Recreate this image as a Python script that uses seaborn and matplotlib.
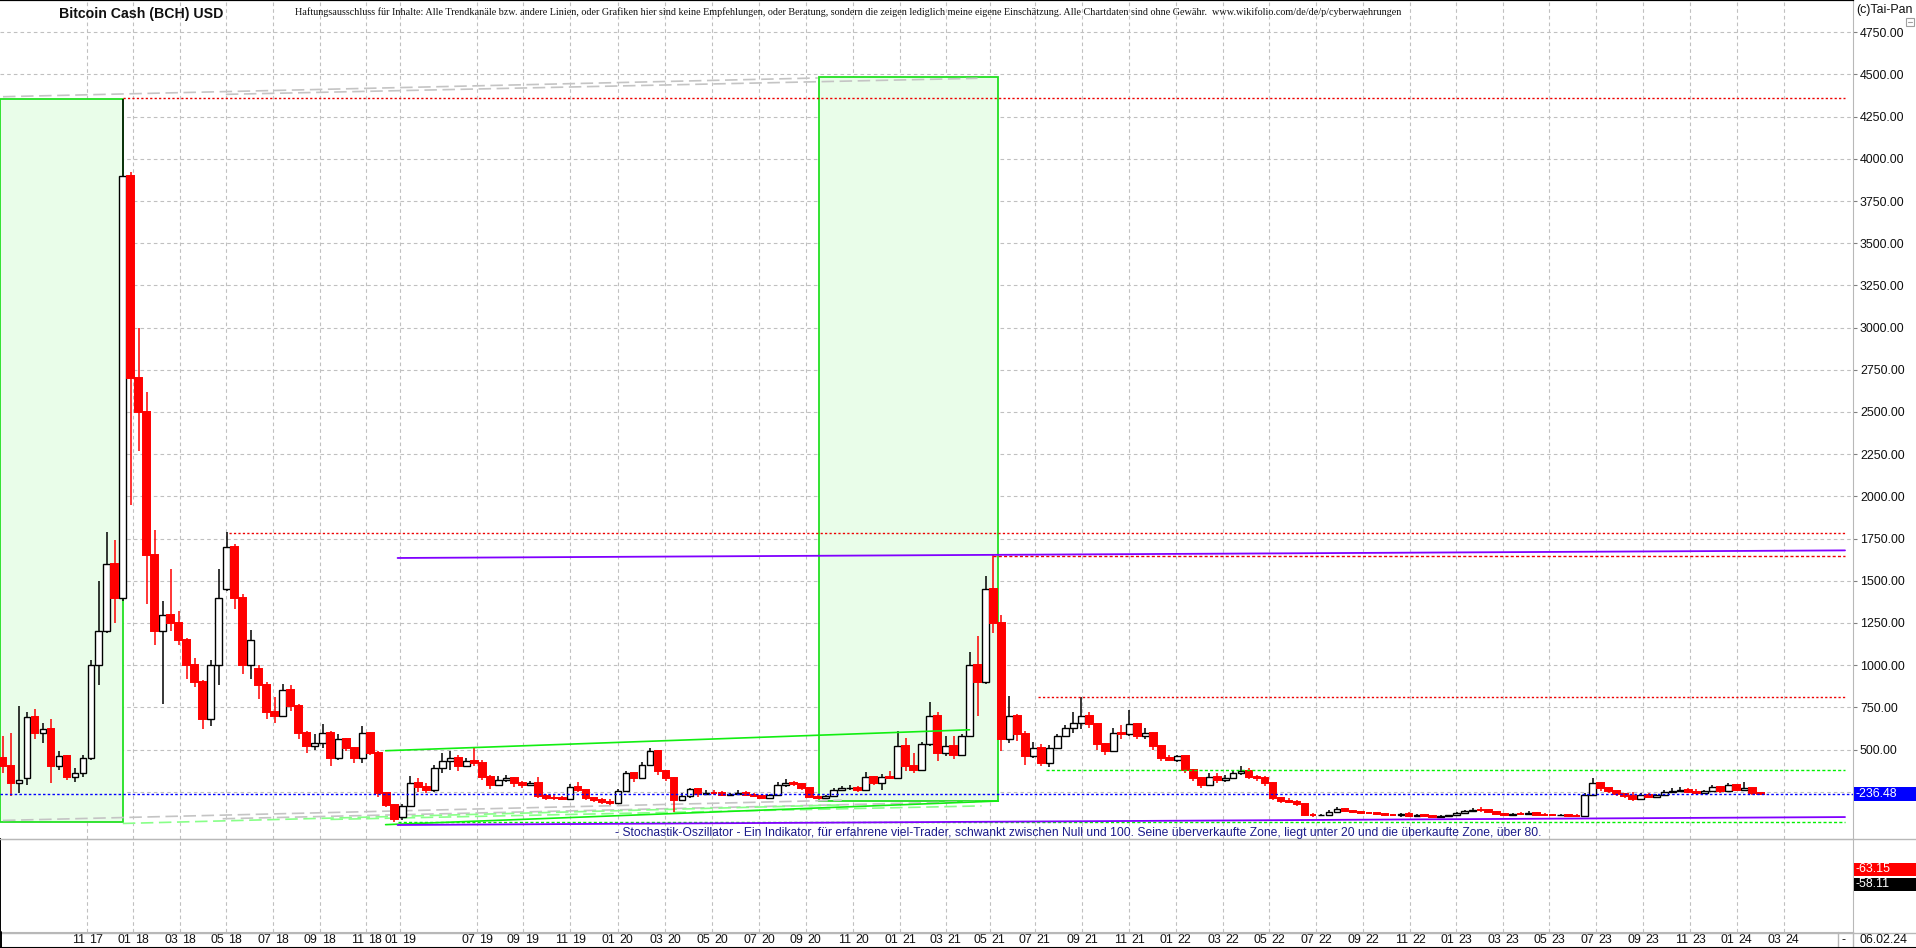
import numpy as np
import pandas as pd
import matplotlib
matplotlib.use("Agg")
import matplotlib.pyplot as plt
import matplotlib.transforms as mtransforms
from matplotlib.patches import Rectangle
from matplotlib.lines import Line2D
from matplotlib import font_manager
import seaborn as sns

print("Building BCH chart...")

# --- candle data (one candle per ~10 days, on a bar index), USD ---
opens = [450, 400, 300, 330, 690, 600, 620, 400, 460, 340,
         360, 450, 1000, 1200, 1600, 1400, 3900, 2700, 2500, 1650,
         1200, 1300, 1250, 1150, 1000, 900, 680, 1000, 1450, 1700,
         1400, 1000, 980, 880, 720, 700, 850, 760, 600, 520,
         540, 600, 450, 560, 510, 450, 600, 480, 240, 170,
         100, 165, 300, 280, 260, 390, 430, 450, 400, 430,
         420, 340, 290, 320, 330, 300, 290, 300, 225, 215,
         210, 205, 280, 260, 210, 200, 190, 185, 255, 360,
         330, 410, 490, 370, 330, 200, 225, 265, 235, 245,
         240, 230, 235, 240, 230, 225, 215, 230, 290, 300,
         295, 270, 220, 210, 225, 260, 270, 275, 260, 340,
         300, 340, 330, 520, 400, 380, 530, 700, 480, 520,
         470, 580, 1000, 900, 1450, 1250, 560, 700, 590, 460,
         510, 420, 510, 580, 630, 660, 700, 650, 530, 490,
         600, 590, 650, 580, 600, 520, 450, 440, 460, 380,
         330, 290, 340, 320, 330, 360, 370, 340, 330, 300,
         215, 195, 190, 175, 115, 110, 112, 132, 145, 135,
         130, 125, 122, 118, 115, 110, 118, 105, 112, 108,
         102, 104, 112, 122, 135, 142, 140, 132, 120, 114,
         118, 116, 125, 115, 112, 110, 112, 106, 104, 230,
         300, 270, 255, 235, 225, 205, 230, 220, 232, 250,
         255, 262, 250, 245, 255, 280, 255, 290, 262, 270,
         240]
highs = [580, 600, 760, 720, 740, 660, 680, 490, 470, 390,
         470, 1030, 1500, 1790, 1740, 4357, 3920, 3000, 2620, 1800,
         1380, 1570, 1320, 1160, 1040, 910, 1030, 1570, 1790, 1720,
         1420, 1210, 1000, 900, 810, 890, 880, 770, 610, 590,
         650, 610, 590, 570, 515, 640, 605, 490, 250, 175,
         180, 345, 330, 300, 410, 480, 490, 470, 450, 510,
         440, 350, 345, 350, 335, 315, 315, 335, 235, 230,
         225, 295, 305, 265, 215, 212, 205, 265, 375, 365,
         425, 510, 495, 380, 335, 240, 275, 270, 262, 262,
         255, 245, 262, 255, 242, 232, 235, 305, 325, 315,
         300, 272, 232, 232, 275, 285, 290, 285, 365, 345,
         355, 375, 610, 570, 480, 545, 780, 720, 580, 580,
         590, 1080, 1170, 1530, 1653, 1300, 820, 710, 610, 545,
         530, 525, 590, 645, 720, 810, 720, 655, 540, 625,
         645, 735, 660, 625, 605, 525, 470, 470, 462, 385,
         335, 360, 360, 350, 370, 400, 390, 350, 345, 305,
         220, 210, 200, 178, 122, 120, 140, 162, 152, 140,
         135, 130, 126, 124, 120, 125, 130, 120, 118, 112,
         112, 115, 128, 142, 152, 160, 145, 135, 125, 124,
         128, 134, 130, 124, 120, 118, 115, 116, 240, 330,
         310, 280, 260, 240, 250, 240, 240, 238, 260, 270,
         280, 270, 268, 262, 290, 282, 300, 292, 310, 272,
         250]
lows = [360, 225, 240, 290, 560, 540, 300, 380, 320, 310,
        340, 440, 880, 1190, 1250, 1380, 1950, 2270, 1360, 1120,
        770, 1200, 1120, 920, 870, 620, 640, 880, 1440, 1330,
        950, 920, 800, 680, 660, 690, 730, 560, 480, 500,
        510, 400, 440, 490, 420, 420, 470, 220, 160, 70,
        80, 160, 250, 240, 250, 360, 380, 370, 395, 400,
        320, 265, 285, 305, 280, 270, 285, 210, 200, 200,
        200, 200, 250, 200, 190, 180, 170, 183, 250, 310,
        325, 400, 350, 315, 130, 195, 215, 220, 230, 232,
        222, 222, 230, 222, 220, 210, 210, 228, 280, 285,
        260, 210, 205, 205, 222, 255, 262, 250, 258, 290,
        260, 325, 325, 370, 360, 375, 520, 430, 460, 445,
        465, 575, 700, 890, 1190, 490, 540, 550, 410, 450,
        400, 395, 505, 575, 600, 620, 630, 500, 465, 485,
        560, 580, 560, 560, 500, 430, 430, 425, 360, 315,
        275, 285, 300, 305, 325, 350, 325, 315, 285, 200,
        185, 185, 165, 105, 102, 104, 110, 128, 128, 124,
        120, 118, 112, 108, 104, 100, 100, 100, 102, 98,
        96, 100, 108, 120, 130, 130, 128, 115, 108, 110,
        110, 114, 112, 108, 106, 106, 102, 100, 100, 225,
        255, 245, 225, 215, 195, 200, 210, 212, 230, 245,
        248, 245, 238, 238, 248, 245, 250, 255, 255, 232,
        230]
closes = [400, 300, 320, 690, 600, 620, 400, 460, 340, 360,
          450, 1000, 1200, 1600, 1400, 3900, 2700, 2500, 1650, 1200,
          1300, 1250, 1150, 1000, 900, 680, 1000, 1400, 1700, 1400,
          1000, 1150, 880, 720, 700, 850, 760, 600, 520, 540,
          600, 450, 560, 510, 450, 600, 480, 240, 170, 90,
          165, 300, 280, 260, 390, 430, 450, 400, 430, 420,
          340, 290, 320, 330, 300, 290, 300, 225, 215, 210,
          205, 280, 260, 210, 200, 190, 185, 255, 360, 330,
          410, 490, 370, 330, 200, 225, 265, 235, 245, 240,
          230, 235, 240, 230, 225, 215, 230, 290, 300, 295,
          270, 220, 210, 225, 260, 270, 275, 260, 340, 300,
          340, 330, 520, 400, 380, 530, 700, 480, 520, 470,
          580, 1000, 900, 1450, 1250, 560, 700, 590, 460, 510,
          420, 510, 580, 630, 660, 700, 650, 530, 490, 600,
          590, 650, 580, 600, 520, 450, 440, 460, 380, 330,
          290, 340, 320, 330, 360, 370, 340, 330, 300, 215,
          195, 190, 175, 115, 110, 112, 132, 145, 135, 130,
          125, 122, 118, 115, 110, 118, 105, 112, 108, 102,
          104, 112, 122, 135, 142, 140, 132, 120, 114, 118,
          116, 125, 115, 112, 110, 112, 106, 104, 230, 300,
          270, 255, 235, 225, 205, 230, 220, 232, 250, 255,
          262, 250, 245, 255, 280, 255, 290, 262, 270, 240,
          236.48]

# month ticks (bar index) and labels
tick_pos = [10.49, 16.3, 22.13, 27.94, 33.84, 39.65, 45.46, 49.75, 59.33, 65.06,
            70.96, 76.93, 82.9, 88.79, 94.69, 100.5, 106.4, 112.29, 118.0, 123.5,
            129.15, 135.09, 140.96, 146.83, 152.78, 158.49, 164.36, 170.3, 176.18, 181.96,
            187.84, 193.55, 199.43, 205.36, 211.24, 217.03, 222.9]
tick_labels = ['11 17', '01 18', '03 18', '05 18', '07 18', '09 18', '11 18', '01 19', '07 19', '09 19',
               '11 19', '01 20', '03 20', '05 20', '07 20', '09 20', '11 20', '01 21', '03 21', '05 21',
               '07 21', '09 21', '11 21', '01 22', '03 22', '05 22', '07 22', '09 22', '11 22', '01 23',
               '03 23', '05 23', '07 23', '09 23', '11 23', '01 24', '03 24']

price_ticks = list(range(500, 5000, 250))
grid_levels = list(range(250, 5000, 250))
last_price = 236.48
stoch_k = 63.15
stoch_d = 58.11
last_date = '06.02.24'

# drawn analysis objects (bar index, price)
box1_x = [-0.4, 15.06]
box1_y = [71, 4357]
box2_x = [102.1, 124.6]
box2_y = [195, 4484]
red_dot_levels = [4360, 1781, 810]
red_dot_start = [15.0, 28.25, 129.6]
red_dash_level = 1647
red_dash_start = 124.0
green_dot_levels = [379, 72]
green_dot_start = [130.6, 49.4]
line_end = 230.6
green_up_x = [47.9, 121.0]
green_up_y = [493, 617]
green_low_x = [47.9, 124.6]
green_low_y = [55, 195]
purple_up_x = [49.4, 230.6]
purple_up_y = [1635, 1680]
purple_low_x = [49.4, 230.6]
purple_low_y = [53, 100]
grey_top_a_x = [0, 102]
grey_top_a_y = [4368, 4479]
grey_top_b_x = [27.9, 122]
grey_top_b_y = [4382, 4477]
grey_bot_a_x = [0, 105]
grey_bot_a_y = [80, 200]
grey_bot_b_x = [27.5, 122.5]
grey_bot_b_y = [90, 192]
lgreen_bot_a_x = [15, 105]
lgreen_bot_a_y = [62, 172]
lgreen_bot_b_x = [41, 122.5]
lgreen_bot_b_y = [86, 166]

# --- style ---
sns.set_style("white")
plt.rcParams['font.family'] = ['Liberation Sans', 'DejaVu Sans']
plt.rcParams['lines.scale_dashes'] = False

W, H = 1916, 948
def fx(px):
    return px / W
def fy(py):
    return 1 - py / H

fig = plt.figure(figsize=(W / 100, H / 100), dpi=100)
ax = fig.add_axes([0, fy(839), fx(1853), fy(0) - fy(839)])
ax2 = fig.add_axes([0, fy(932), fx(1853), fy(839) - fy(932)])

xmin, xmax = -0.375, 231.6
for a in (ax, ax2):
    a.set_xlim(xmin, xmax)
    a.set_facecolor('white')
ax.set_ylim(-30, 4941)
ax2.set_ylim(0, 100)

grid_kw = dict(color='#c0c0c0', lw=0.8, ls=(0, (2.6, 2.2)), zorder=1)
for g in grid_levels:
    ax.axhline(g, **grid_kw)
for p in tick_pos:
    ax.axvline(p, **grid_kw)
    ax2.axvline(p, **grid_kw)

# boxes
for bx, by in ((box1_x, box1_y), (box2_x, box2_y)):
    ax.add_patch(Rectangle((bx[0], by[0]), bx[1] - bx[0], by[1] - by[0],
                           facecolor='#e9fde9', edgecolor='#22e022', lw=1.3, zorder=1.5))

# candles
df = pd.DataFrame({'o': opens, 'h': highs, 'l': lows, 'c': closes})
df['pos'] = np.arange(len(df))
up = df['c'] >= df['o']
dn = ~up
ax.vlines(df['pos'][up], df['l'][up], df['h'][up], color='black', lw=1.1, zorder=3)
ax.vlines(df['pos'][dn], df['l'][dn], df['h'][dn], color='#ff0000', lw=1.1, zorder=3)
ax.bar(df['pos'][up], (df['c'] - df['o'])[up], bottom=df['o'][up], width=0.84,
       color='white', edgecolor='black', lw=1.0, zorder=4)
ax.bar(df['pos'][dn], (df['o'] - df['c'])[dn], bottom=df['c'][dn], width=0.84,
       color='#ff0000', edgecolor='#ff0000', lw=1.4, zorder=4)

# horizontal levels
ax.hlines(red_dot_levels, red_dot_start, line_end, color='#ee0000', lw=1.0, ls=(0, (1.6, 1.6)), zorder=5)
ax.hlines(red_dash_level, red_dash_start, line_end, color='#ee0000', lw=1.0, ls=(0, (2.2, 1.6)), zorder=5)
ax.hlines(green_dot_levels, green_dot_start, line_end, color='#00f000', lw=1.0, ls=(0, (2.2, 1.6)), zorder=5)
ax.axhline(last_price, color='#0000ff', lw=1.0, ls=(0, (1.8, 1.6)), zorder=5)

# trend lines
def seg(xs, ys, **kw):
    sns.lineplot(x=xs, y=ys, ax=ax, estimator=None, sort=False, legend=False, **kw)

for xs, ys in ((grey_top_a_x, grey_top_a_y), (grey_top_b_x, grey_top_b_y),
               (grey_bot_a_x, grey_bot_a_y), (grey_bot_b_x, grey_bot_b_y)):
    seg(xs, ys, color='#c4c4c4', lw=1.2, ls=(0, (9, 4)), zorder=2)
for xs, ys in ((lgreen_bot_a_x, lgreen_bot_a_y), (lgreen_bot_b_x, lgreen_bot_b_y)):
    seg(xs, ys, color='#88ff88', lw=1.2, ls=(0, (9, 4)), zorder=2)
seg(green_up_x, green_up_y, color='#11ee11', lw=1.2, zorder=5)
seg(green_low_x, green_low_y, color='#11ee11', lw=1.2, zorder=5)
seg(purple_up_x, purple_up_y, color='#8000ff', lw=1.3, zorder=5)
seg(purple_low_x, purple_low_y, color='#8000ff', lw=1.3, zorder=5)

# axes cosmetics
ax.set_xlabel('')
ax.set_ylabel('')
ax.set_xticks([])
ax.yaxis.tick_right()
ax.set_yticks(price_ticks)
ax.set_yticklabels([f'{v:.2f}' for v in price_ticks])
ax.tick_params(axis='y', labelsize=8.9, pad=2, length=3, color='#808080', labelcolor='#101010')
for s in ('left', 'bottom'):
    ax.spines[s].set_visible(False)
ax.spines['top'].set_color('black')
ax.spines['top'].set_linewidth(1.6)
ax.spines['right'].set_color('#b8b8b8')

ax2.set_yticks([])
ax2.set_xticks(tick_pos)
ax2.set_xticklabels([])
ax2.tick_params(axis='x', direction='out', length=11, width=0.8, color='#b0b0b0')
ax2.spines['top'].set_color('#b8b8b8')
ax2.spines['bottom'].set_color('#b8b8b8')
ax2.spines['right'].set_color('#b8b8b8')
ax2.spines['left'].set_color('black')
ax2.spines['left'].set_linewidth(1.4)

# month labels split around the tick line
base = mtransforms.blended_transform_factory(ax2.transData, fig.transFigure)
tl = mtransforms.offset_copy(base, fig=fig, x=-2, y=0, units='dots')
tr = mtransforms.offset_copy(base, fig=fig, x=2, y=0, units='dots')
for p, lab in zip(tick_pos, tick_labels):
    m, yy = lab.split()
    ax2.text(p, fy(940), m, transform=tl, ha='right', va='center', fontsize=8.9, color='#101010')
    ax2.text(p, fy(940), yy, transform=tr, ha='left', va='center', fontsize=8.9, color='#101010')

# frame lines
fig.add_artist(Line2D([0, 1], [fy(839), fy(839)], color='#b8b8b8', lw=1))
fig.add_artist(Line2D([0, 1], [fy(932.5), fy(932.5)], color='#b8b8b8', lw=1))
fig.add_artist(Line2D([fx(1853), fx(1853)], [fy(932), fy(948)], color='#b8b8b8', lw=1))
fig.add_artist(Line2D([fx(1838), fx(1838)], [fy(932), fy(948)], color='#b8b8b8', lw=1))
fig.add_artist(Line2D([0, 1], [fy(947.5), fy(947.5)], color='black', lw=1.5))
fig.add_artist(Line2D([fx(1), fx(1)], [fy(932), fy(948)], color='black', lw=1.4))

# right side price tags
tag_tr = mtransforms.blended_transform_factory(ax.transAxes, ax.transData)
ax.add_patch(Rectangle((1.0006, last_price - 42), W / 1853 - 1.0, 84, transform=tag_tr,
                       facecolor='#0000ff', edgecolor='none', clip_on=False, zorder=6))
ax.text(1.0012, last_price, f'-{last_price:.2f}', transform=tag_tr, ha='left', va='center',
        fontsize=8.9, color='white', clip_on=False, zorder=7)
for val, yc, col in ((stoch_k, 869, '#ff0000'), (stoch_d, 884, '#000000')):
    fig.patches.append(Rectangle((fx(1854), fy(yc + 6.5)), fx(62), 13 / H, transform=fig.transFigure,
                                 facecolor=col, edgecolor='none', figure=fig))
    fig.text(fx(1855), fy(yc), f'-{val:.2f}', ha='left', va='center', fontsize=8.9, color='white')
fig.text(fx(1856), fy(10), '(c)Tai-Pan', ha='left', va='center', fontsize=8.9, color='#101010')
fig.patches.append(Rectangle((fx(1906), fy(26)), fx(8), 8 / H, transform=fig.transFigure,
                             facecolor='white', edgecolor='#a0a0a0', lw=0.8, figure=fig))
fig.add_artist(Line2D([fx(1908), fx(1912)], [fy(22), fy(22)], color='#a0a0a0', lw=0.8))
fig.text(fx(1843), fy(940), '-', ha='center', va='center', fontsize=8.9, color='#101010')
fig.text(fx(1860), fy(940), last_date, ha='left', va='center', fontsize=8.9, color='#101010')

# headline and notes
fig.text(fx(141), fy(14), 'Bitcoin Cash (BCH) USD', ha='center', va='center',
         fontsize=10.2, fontweight='bold', color='#101010')

names = {f.name for f in font_manager.fontManager.ttflist}
narrow = 'Liberation Sans Narrow' if 'Liberation Sans Narrow' in names else 'Liberation Serif'
disclaimer = ('Haftungsausschluss für Inhalte: Alle Trendkanäle bzw. andere Linien, oder Grafiken hier sind '
              'keine Empfehlungen, oder Beratung, sondern die zeigen lediglich meine eigene Einschätzung. '
              'Alle Chartdaten sind ohne Gewähr.  www.wikifolio.com/de/de/p/cyberwaehrungen')
t1 = fig.text(fx(295), fy(12), disclaimer, ha='left', va='center', fontsize=7.5,
              family=[narrow, 'DejaVu Sans'], color='#101010')
stoch_note = ('- Stochastik-Oszillator - Ein Indikator, für erfahrene viel-Trader, schwankt zwischen Null '
              'und 100. Seine überverkaufte Zone, liegt unter 20 und die überkaufte Zone, über 80.')
t2 = fig.text(fx(615), fy(833), stoch_note, ha='left', va='center', fontsize=8.7, color='#1c1c8c')

fig.canvas.draw()
r = fig.canvas.get_renderer()
for t, target in ((t1, 1101), (t2, 930)):
    w = t.get_window_extent(renderer=r).width
    t.set_fontsize(t.get_fontsize() * target / w)

fig.savefig('out.png', dpi=100)
plt.close(fig)
print("Saved out.png")
